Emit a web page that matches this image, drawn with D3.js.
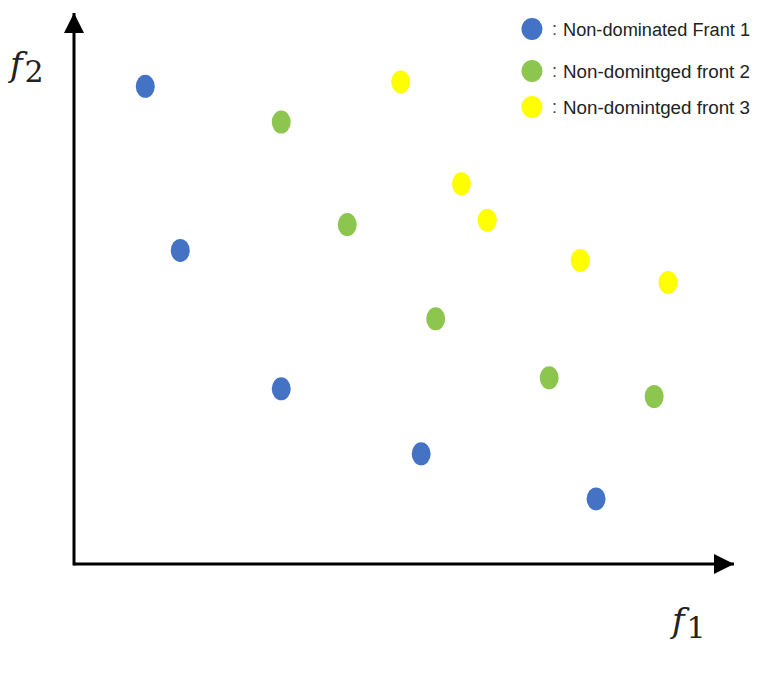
<!DOCTYPE html>
<html>
<head>
<meta charset="utf-8">
<script src="https://cdn.jsdelivr.net/npm/d3@7"></script>
<style>
  body { margin: 0; background: #fff; }
  svg { display: block; }
</style>
</head>
<body>
<div id="chart"></div>
<script>
// Data: three non-dominated fronts (f1, f2), in arbitrary units
const front1 = [[1.08, 8.67], [1.61, 5.69], [3.14, 3.18], [5.26, 2.00], [7.91, 1.18]];
const front2 = [[3.14, 8.02], [4.14, 6.16], [5.48, 4.45], [7.20, 3.38], [8.79, 3.04]];
const front3 = [[4.95, 8.75], [5.87, 6.90], [6.26, 6.24], [7.67, 5.51], [9.00, 5.11]];
const seriesNames = ["Non-dominated Frant 1", "Non-domintged front 2", "Non-domintged front 3"];
const seriesColors = ["#4472c4", "#8dc64e", "#ffff00"];

const width = 762;
const height = 683;

// Origin of the axes and where the arrows end
const origin = { x: 74, y: 564 };
const xEnd = 734;
const yEnd = 13;

const xScale = d3.scaleLinear().domain([0, 10]).range([origin.x, xEnd]);
const yScale = d3.scaleLinear().domain([0, 10]).range([origin.y, yEnd]);

const svg = d3.select("#chart")
  .append("svg")
  .attr("width", width)
  .attr("height", height);

// Arrow marker
svg.append("defs")
  .append("marker")
  .attr("id", "arrow")
  .attr("viewBox", "0 0 10 10")
  .attr("refX", 10)
  .attr("refY", 5)
  .attr("markerUnits", "userSpaceOnUse")
  .attr("markerWidth", 20)
  .attr("markerHeight", 22)
  .attr("orient", "auto")
  .append("path")
  .attr("d", "M0,0 L10,5 L0,10 Z")
  .attr("fill", "#000");

// Axes: plain lines with arrow heads, no ticks
svg.append("line")
  .attr("x1", origin.x)
  .attr("y1", origin.y)
  .attr("x2", xEnd)
  .attr("y2", origin.y)
  .attr("stroke", "#000")
  .attr("stroke-width", 3)
  .attr("marker-end", "url(#arrow)");

svg.append("line")
  .attr("x1", origin.x)
  .attr("y1", origin.y + 1.5)
  .attr("x2", origin.x)
  .attr("y2", yEnd)
  .attr("stroke", "#000")
  .attr("stroke-width", 3)
  .attr("marker-end", "url(#arrow)");

// Axis labels f1, f2
function axisLabel(x, y, sub) {
  const t = svg.append("text")
    .attr("x", x)
    .attr("y", y)
    .style("font-family", "'DejaVu Serif', 'Liberation Serif', serif")
    .style("font-size", "34px")
    .attr("fill", "#222");
  t.append("tspan").style("font-style", "italic").text("f");
  t.append("tspan").attr("dx", 2).style("font-size", "30px").attr("dy", 6).text(sub);
}
axisLabel(10, 76, "2");
axisLabel(672, 632, "1");

// Points
const fronts = [front1, front2, front3];
fronts.forEach((pts, i) => {
  svg.append("g")
    .selectAll("ellipse")
    .data(pts)
    .enter()
    .append("ellipse")
    .attr("cx", d => xScale(d[0]))
    .attr("cy", d => yScale(d[1]))
    .attr("rx", 9.5)
    .attr("ry", 11.5)
    .attr("fill", seriesColors[i]);
});

// Legend
const legend = svg.append("g").attr("transform", "translate(532, 29)");
const legendItems = legend.selectAll("g")
  .data(seriesNames)
  .enter()
  .append("g")
  .attr("transform", (d, i) => `translate(0, ${[0, 42, 78][i]})`);

legendItems.append("ellipse")
  .attr("rx", 10.5)
  .attr("ry", 11)
  .attr("fill", (d, i) => seriesColors[i]);

legendItems.append("text")
  .attr("x", 20)
  .attr("y", 6)
  .style("font-family", "'Liberation Sans', Arial, sans-serif")
  .style("font-size", "18px")
  .attr("fill", "#444")
  .text(":");

legendItems.append("text")
  .attr("x", 31)
  .attr("y", 7)
  .style("font-family", "'Liberation Sans', Arial, sans-serif")
  .style("font-size", "18px")
  .attr("fill", "#222")
  .attr("textLength", 187)
  .attr("lengthAdjust", "spacingAndGlyphs")
  .text(d => d);
</script>
</body>
</html>
